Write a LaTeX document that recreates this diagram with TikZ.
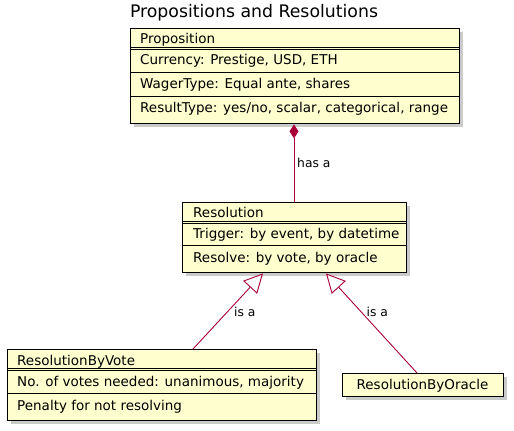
\documentclass[tikz,border=0pt]{standalone}
\usepackage{fontspec}
\setmainfont{DejaVu Sans}
\usetikzlibrary{arrows.meta,shadows}
\definecolor{boxfill}{HTML}{FEFECE}
\definecolor{link}{HTML}{A80036}
\tikzset{
  x=1pt, y=-1pt,
  cls/.style={draw=black, line width=1.4pt, fill=boxfill, inner sep=0pt, anchor=north west,
    drop shadow={shadow xshift=3.5pt, shadow yshift=-3.5pt, fill=black!35, opacity=0.6}},
  sep/.style={draw=black, line width=1pt},
  txt/.style={anchor=base west, inner sep=0pt, font=\fontsize{13.5}{16}\selectfont},
  lbl/.style={anchor=base west, inner sep=0pt, font=\fontsize{12.3}{14}\selectfont},
  conn/.style={draw=link, line width=0.9pt},
  gen/.style={conn, -{Triangle[open, length=19pt, width=19pt, fill=white]}},
  comp/.style={conn, {Diamond[length=14pt, width=9pt, fill=link]}-}
}
\begin{document}
\begin{tikzpicture}
\useasboundingbox (0,0) rectangle (514,431);
% title
\node[anchor=base, inner sep=0pt, font=\fontsize{17.3}{20}\selectfont] (title) at (254,17) {Propositions and Resolutions};
% Proposition
\node[cls, minimum width=329pt, minimum height=95pt] (prop) at (130,28) {};
\draw[sep] ([yshift=-19pt]prop.north west) -- ([yshift=-19pt]prop.north east);
\draw[sep] ([yshift=-21pt]prop.north west) -- ([yshift=-21pt]prop.north east);
\draw[sep] ([yshift=-44pt]prop.north west) -- ([yshift=-44pt]prop.north east);
\draw[sep] ([yshift=-68pt]prop.north west) -- ([yshift=-68pt]prop.north east);
\node[txt] (p1) at (140,43) {Proposition};
\node[txt] (p2) at (140,64.5) {Currency: Prestige, USD, ETH};
\node[txt] (p3) at (140,88) {WagerType: Equal ante, shares};
\node[txt] (p4) at (140,112) {ResultType: yes/no, scalar, categorical, range};
% Resolution
\node[cls, minimum width=224pt, minimum height=70pt] (res) at (182,202) {};
\draw[sep] ([yshift=-19pt]res.north west) -- ([yshift=-19pt]res.north east);
\draw[sep] ([yshift=-21pt]res.north west) -- ([yshift=-21pt]res.north east);
\draw[sep] ([yshift=-43pt]res.north west) -- ([yshift=-43pt]res.north east);
\node[txt] (r1) at (193,217.5) {Resolution};
\node[txt] (r2) at (193,238) {Trigger: by event, by datetime};
\node[txt] (r3) at (193,262.5) {Resolve: by vote, by oracle};
% ResolutionByVote
\node[cls, minimum width=309pt, minimum height=71pt] (vote) at (7,349) {};
\draw[sep] ([yshift=-19pt]vote.north west) -- ([yshift=-19pt]vote.north east);
\draw[sep] ([yshift=-21pt]vote.north west) -- ([yshift=-21pt]vote.north east);
\draw[sep] ([yshift=-44pt]vote.north west) -- ([yshift=-44pt]vote.north east);
\node[txt] (v1) at (17,365) {ResolutionByVote};
\node[txt] (v2) at (17,386) {No. of votes needed: unanimous, majority};
\node[txt] (v3) at (17,410) {Penalty for not resolving};
% ResolutionByOracle
\node[cls, minimum width=161pt, minimum height=23pt] (orc) at (342,373) {};
\node[txt, anchor=base] (o1) at (422.5,389.5) {ResolutionByOracle};
% connectors
\draw[comp] ([xshift=164pt]prop.south west) -- ([xshift=112pt]res.north west);
\node[lbl] (l1) at (297,167) {has a};
\draw[gen] ([xshift=186pt]vote.north west) -- ([xshift=81pt]res.south west);
\node[lbl] (l2) at (234,316) {is a};
\draw[gen] ([xshift=75pt]orc.north west) -- ([xshift=144pt]res.south west);
\node[lbl] (l3) at (366.5,316) {is a};
\end{tikzpicture}
\end{document}
